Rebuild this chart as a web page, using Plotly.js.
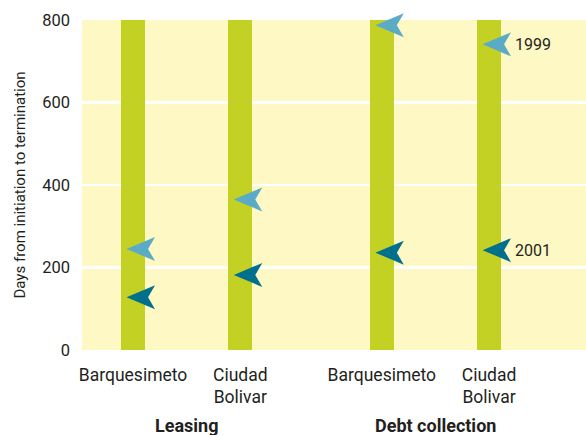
<!DOCTYPE html>
<html>
<head>
<meta charset="utf-8">
<script src="https://cdn.plot.ly/plotly-3.0.1.min.js"></script>
<style>
  html, body { margin: 0; padding: 0; background: #ffffff; }
  #chart { width: 586px; height: 435px; }
</style>
</head>
<body>
<div id="chart"></div>
<script>
// City positions along the x axis (two cities per case type, wider gap between groups)
const cityPos = [0, 1, 2.32, 3.32];
const cityLabels = ['Barquesimeto', 'Ciudad<br>Bolivar', 'Barquesimeto', 'Ciudad<br>Bolivar'];
const groupNames = ['Leasing', 'Debt collection'];
const groupCenters = [0.5, 2.82];

// Days from initiation to termination
const days1999 = [245, 365, 787, 741];
const days2001 = [128, 182, 236, 242];

// Axis extent; the green columns run over the full span
const yMax = 800;
const columnTops = [800, 800, 800, 800];

const FONT = 'Roboto, "Liberation Sans", sans-serif';
const TEXT = '#231f20';
const C1999 = '#5aabc5';
const C2001 = '#00708d';

// Left-pointing notched arrowhead, tip at the anchor point (pixel units)
const arrowPath = 'M-6.5,0 L22,12 L15,0 L22,-12 Z';

// Arrowheads are placed in paper units along y (range starts at 0) so that
// a marker near the top edge is not clipped by the plot area.
function arrowShapes(values, color) {
  return values.map((v, i) => ({
    type: 'path',
    xref: 'x', yref: 'paper',
    xsizemode: 'pixel', ysizemode: 'pixel',
    xanchor: cityPos[i], yanchor: v / yMax,
    path: arrowPath,
    fillcolor: color,
    line: { width: 0 },
    layer: 'above'
  }));
}

const traces = [{
  type: 'bar',
  x: cityPos,
  y: columnTops,
  width: 0.225,
  marker: { color: '#c3d124', line: { width: 0 } },
  hoverinfo: 'skip',
  showlegend: false
}];

const annotations = [
  {
    x: cityPos[3], y: days1999[3], xref: 'x', yref: 'y',
    text: '1999', showarrow: false, xanchor: 'left', yanchor: 'middle',
    xshift: 24, font: { family: FONT, size: 16, color: TEXT }
  },
  {
    x: cityPos[3], y: days2001[3], xref: 'x', yref: 'y',
    text: '2001', showarrow: false, xanchor: 'left', yanchor: 'middle',
    xshift: 24, font: { family: FONT, size: 16, color: TEXT }
  }
].concat(groupNames.map((g, i) => ({
  x: groupCenters[i], y: 0, xref: 'x', yref: 'paper',
  text: '<b>' + g + '</b>', showarrow: false,
  xanchor: 'center', yanchor: 'middle', yshift: -75,
  font: { family: FONT, size: 18, color: TEXT }
})));

const layout = {
  width: 586, height: 435,
  margin: { l: 82, r: 0, t: 20, b: 85 },
  paper_bgcolor: '#ffffff',
  plot_bgcolor: '#fef8c5',
  showlegend: false,
  bargap: 0,
  xaxis: {
    range: [-0.476, 4.224],
    tickvals: cityPos,
    ticktext: cityLabels,
    showgrid: false, zeroline: false, showline: false,
    ticks: '',
    ticklabelstandoff: 12,
    tickfont: { family: FONT, size: 17.5, color: TEXT },
    fixedrange: true
  },
  yaxis: {
    range: [0, yMax],
    tickvals: [0, 200, 400, 600, 800],
    showgrid: true, gridcolor: '#ffffff', gridwidth: 2.5,
    zeroline: false, showline: false,
    ticks: '', ticklen: 0,
    ticklabelstandoff: 11,
    tickfont: { family: FONT, size: 16.5, color: TEXT },
    title: {
      text: 'Days from initiation to termination',
      font: { family: FONT, size: 15, color: TEXT },
      standoff: 12
    },
    fixedrange: true
  },
  shapes: arrowShapes(days1999, C1999).concat(arrowShapes(days2001, C2001)),
  annotations: annotations
};

Plotly.newPlot('chart', traces, layout, { displayModeBar: false, staticPlot: true });
</script>
</body>
</html>
